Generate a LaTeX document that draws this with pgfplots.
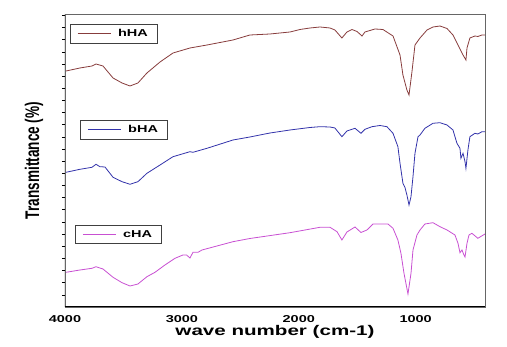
\documentclass[border=0pt]{standalone}
\usepackage{fontspec}
\setmainfont{Liberation Sans}
\usepackage{graphicx}
\usepackage{pgfplots}
\pgfplotsset{compat=1.18}
\definecolor{cH}{RGB}{135,60,60}
\definecolor{cB}{RGB}{50,50,170}
\definecolor{cC}{RGB}{200,80,210}
\pgfplotstableread{
x y
3991 -71
3872 -68
3769 -66
3735 -64
3675 -66
3589 -78
3512 -83
3444 -86
3376 -83
3299 -73
3187 -62
3076 -53
2931 -48
2785 -45
2563 -40
2418 -35
2246 -34
2075 -32
1990 -29.5
1904 -28
1819 -27
1733 -28
1691 -30
1631 -38
1588 -32
1545 -29.5
1502 -31.5
1459 -36
1434 -32
1391 -30.5
1348 -29
1280 -29.5
1194 -36
1134 -55
1109 -75
1075 -90
1057 -95
1032 -72
1006 -45
963 -38
903 -30
852 -27
792 -26
732 -28.5
681 -35
638 -45
604 -53
595 -55
570 -60
561 -48
536 -38
493 -36
468 -36.5
433 -35
407 -35
}\hHA
\pgfplotstableread{
x y
3991 -172.3
3872 -169.3
3769 -167.3
3735 -164.3
3701 -166.7
3658 -167
3589 -177.3
3512 -181.7
3444 -184.3
3376 -181.7
3299 -173.3
3187 -165
3076 -156.7
2931 -151.7
2905 -152.3
2785 -148.3
2563 -140
2418 -137
2246 -133
2075 -130
1904 -127.5
1819 -126.7
1733 -127
1691 -128
1631 -136.7
1588 -131
1519 -128.3
1468 -133.3
1434 -129.3
1374 -126.7
1305 -125.5
1246 -126.7
1194 -133.3
1152 -146.7
1134 -163.3
1109 -183.3
1092 -187.3
1075 -195
1057 -205
1040 -196.7
1023 -176.7
1006 -153.3
980 -136.7
963 -135
921 -128.3
852 -123.3
792 -122.7
732 -125
681 -130
647 -143.3
621 -148.3
613 -158.3
595 -153.3
578 -161.7
570 -168.3
553 -150
536 -136.7
493 -133.3
468 -134
433 -131.7
407 -131.7
}\bHA
\pgfplotstableread{
x y
3991 -272.3
3872 -270
3769 -268.3
3735 -266.7
3675 -269
3589 -277.3
3512 -282.7
3444 -286
3376 -284
3299 -276.7
3230 -272.3
3145 -265
3059 -258.3
2991 -255
2960 -255
2931 -258
2905 -252.3
2862 -252.3
2828 -250
2563 -241.7
2418 -238.5
2075 -232.7
1819 -227.3
1733 -227.3
1673 -231.7
1631 -240
1588 -232
1519 -227
1468 -232.5
1417 -230
1365 -224
1237 -224
1194 -228.3
1152 -240
1126 -253.3
1100 -273.3
1066 -294
1040 -273.3
1023 -250
989 -235
963 -230
921 -224
852 -222.7
792 -226.7
732 -230
664 -235
638 -243.3
621 -252.7
604 -250
587 -255
578 -257
561 -243.3
544 -235
519 -233.3
468 -238.3
407 -234
}\cHA
\begin{document}
\begin{tikzpicture}
\path[use as bounding box] (0,0) rectangle (507pt,347pt);
\pgfplotsset{
  base/.style={scale only axis, width=420pt, height=293pt,
    at={(65pt,40pt)}, anchor=south west,
    xmin=407, xmax=4000, x dir=reverse, ymin=-307, ymax=-14,
    legend image code/.code={\draw[##1] (0pt,0pt) -- (33pt,0pt);},
    legend style={draw=black!75, line width=0.6pt, fill=white, anchor=north west,
      inner xsep=7pt, inner ysep=3pt,
      font=\fontsize{10}{12}\selectfont\bfseries,
      /tikz/every odd column/.append style={column sep=5pt}},
  },
}
\begin{axis}[base,
  axis line style={black!60, line width=0.6pt},
  tick pos=left, tick align=outside, major tick length=3pt,
  xtick={1000,2000,3000,4000},
  xticklabels={\scalebox{1.45}[1]{1000},\scalebox{1.45}[1]{2000},\scalebox{1.45}[1]{3000},\scalebox{1.45}[1]{4000}},
  xtick style={draw=none},
  xticklabel style={font=\fontsize{10}{12}\selectfont\bfseries, yshift=-1.5pt},
  ytick={-294.85,-282.7,...,-20},
  yticklabels={},
  ytick style={black, line width=0.6pt},
  xlabel={\scalebox{1.47}[1]{wave number (cm-1)}},
  xlabel style={font=\fontsize{14}{16}\selectfont\bfseries, at={(axis description cs:0.5,0)}, anchor=center, yshift=-25pt},
  ylabel={\scalebox{1}[1.45]{Transmittance (\%)}},
  ylabel style={font=\fontsize{13.6}{16}\selectfont\bfseries, at={(axis description cs:-0.0738,0.5)}, anchor=center},
  legend style={at={(axis description cs:0.012,0.966)}},
]
\addplot[cH, line width=0.8pt] table[x=x,y=y] {\hHA};
\addlegendentry{\scalebox{1.45}[1]{hHA}}
\draw[black, line width=1pt] (rel axis cs:0,1) -- (rel axis cs:0,0) -- (rel axis cs:1,0);
\end{axis}
\begin{axis}[base, hide axis, legend style={at={(axis description cs:0.036,0.638)}}]
\addplot[cB, line width=0.8pt] table[x=x,y=y] {\bHA};
\addlegendentry{\scalebox{1.45}[1]{bHA}}
\end{axis}
\begin{axis}[base, hide axis, legend style={at={(axis description cs:0.024,0.280)}}]
\addplot[cC, line width=0.8pt] table[x=x,y=y] {\cHA};
\addlegendentry{\scalebox{1.45}[1]{cHA}}
\end{axis}
\end{tikzpicture}
\end{document}
